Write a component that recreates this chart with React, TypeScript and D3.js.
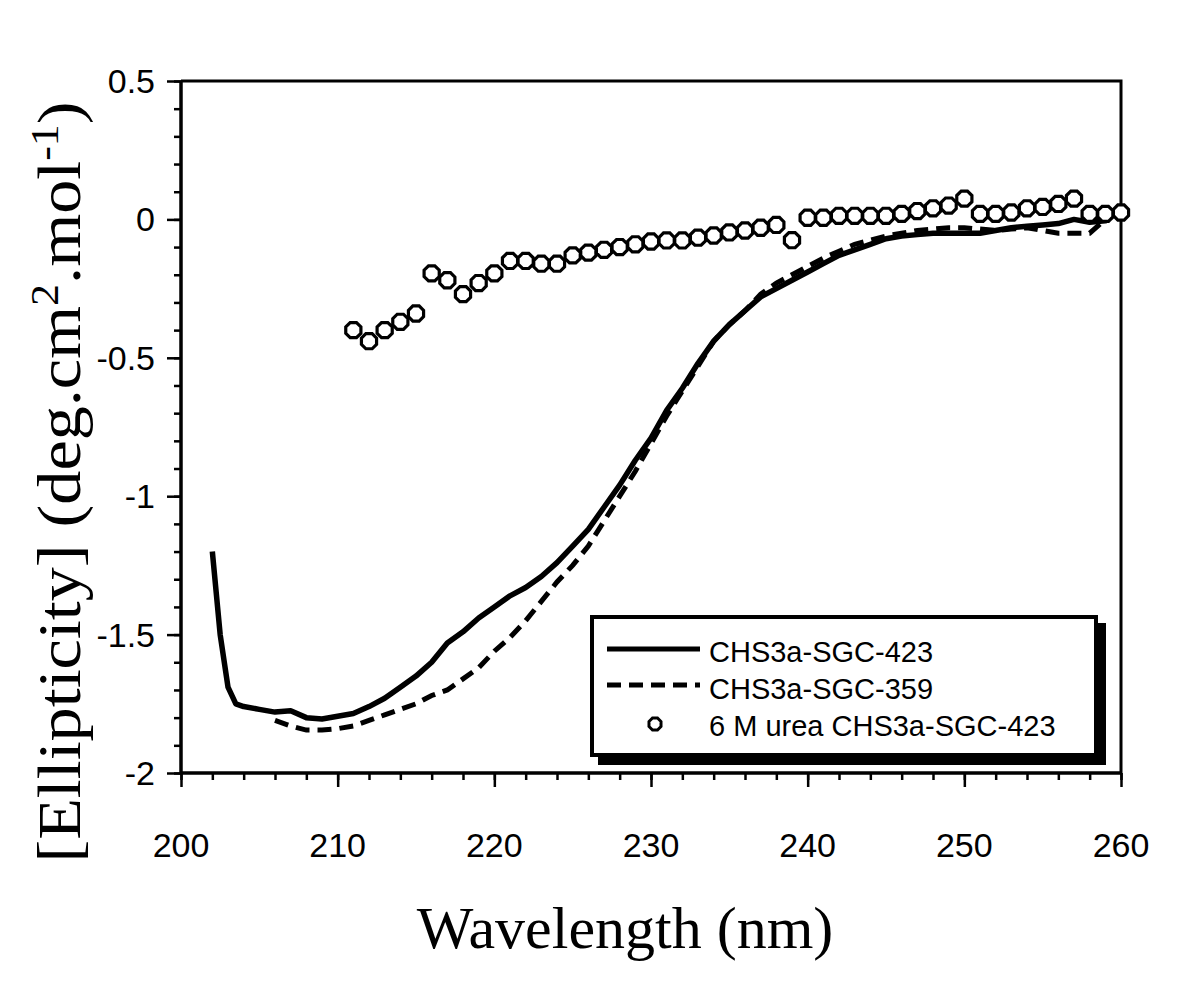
import React, { useEffect, useRef } from 'react';
import * as d3 from 'd3';

// CHS3a-SGC-423 (solid)
const wl423 = [202, 202.5, 203, 203.5, 204, 205, 206, 207, 208, 209, 210, 211, 212, 213, 214, 215, 216, 217, 218, 219, 220, 221, 222, 223, 224, 225, 226, 227, 228, 229, 230, 231, 232, 233, 234, 235, 236, 237, 238, 239, 240, 241, 242, 243, 244, 245, 246, 247, 248, 249, 250, 251, 252, 253, 254, 255, 256, 257, 258, 259, 260];
const ell423 = [-1.2, -1.5, -1.69, -1.75, -1.76, -1.77, -1.78, -1.775, -1.8, -1.805, -1.795, -1.785, -1.76, -1.73, -1.69, -1.65, -1.6, -1.53, -1.49, -1.44, -1.4, -1.36, -1.33, -1.29, -1.24, -1.18, -1.12, -1.04, -0.96, -0.87, -0.79, -0.69, -0.61, -0.52, -0.44, -0.38, -0.33, -0.28, -0.25, -0.22, -0.19, -0.16, -0.13, -0.11, -0.09, -0.07, -0.06, -0.055, -0.05, -0.05, -0.05, -0.05, -0.04, -0.03, -0.025, -0.02, -0.015, 0, -0.01, -0.005, 0.04];

// CHS3a-SGC-359 (dashed)
const wl359 = [206, 207, 208, 209, 210, 211, 212, 213, 214, 215, 216, 217, 218, 219, 220, 221, 222, 223, 224, 225, 226, 227, 228, 229, 230, 231, 232, 233, 234, 235, 236, 237, 238, 239, 240, 241, 242, 243, 244, 245, 246, 247, 248, 249, 250, 251, 252, 253, 254, 255, 256, 257, 258, 259, 260];
const ell359 = [-1.81, -1.83, -1.845, -1.845, -1.84, -1.83, -1.81, -1.79, -1.77, -1.75, -1.72, -1.7, -1.66, -1.62, -1.56, -1.51, -1.45, -1.38, -1.31, -1.25, -1.18, -1.09, -1.0, -0.91, -0.81, -0.71, -0.62, -0.53, -0.44, -0.38, -0.33, -0.27, -0.23, -0.2, -0.17, -0.14, -0.115, -0.09, -0.075, -0.06, -0.05, -0.04, -0.035, -0.03, -0.03, -0.035, -0.04, -0.035, -0.03, -0.04, -0.05, -0.05, -0.05, 0.0, 0.03];

// 6 M urea CHS3a-SGC-423 (open markers)
const wlUrea = d3.range(211, 261);
const ellUrea = [-0.4, -0.44, -0.4, -0.37, -0.34, -0.195, -0.22, -0.27, -0.23, -0.195, -0.15, -0.15, -0.16, -0.16, -0.13, -0.12, -0.11, -0.1, -0.09, -0.08, -0.076, -0.076, -0.066, -0.058, -0.047, -0.04, -0.03, -0.02, -0.075, 0.006, 0.006, 0.013, 0.013, 0.013, 0.013, 0.02, 0.03, 0.04, 0.05, 0.075, 0.02, 0.02, 0.025, 0.04, 0.045, 0.056, 0.075, 0.02, 0.02, 0.025];

const legendLabels = ['CHS3a-SGC-423', 'CHS3a-SGC-359', '6 M urea CHS3a-SGC-423'];
const xTicks = [200, 210, 220, 230, 240, 250, 260];
const yTicks = [0.5, 0, -0.5, -1, -1.5, -2];

const SANS = '"Liberation Sans", Arial, sans-serif';
const SERIF = '"Liberation Serif", "Times New Roman", serif';

// octagon-ish marker path
const marker = (r: number) => {
  const pts = d3.range(8).map(i => {
    const a = (Math.PI / 8) + i * Math.PI / 4;
    return [r * Math.cos(a), r * Math.sin(a)];
  });
  return 'M' + pts.map(p => p.join(',')).join('L') + 'Z';
};

const App = () => {
  const svgRef = useRef(null);

  useEffect(() => {
    const svg = d3.select(svgRef.current);
    svg.selectAll('*').remove();

    const x = d3.scaleLinear().domain([200, 260]).range([181, 1121]);
    const y = d3.scaleLinear().domain([-2, 0.5]).range([773, 81]);

    // frame top + right
    svg.append('path')
      .attr('d', `M${x(200)},${y(0.5)}H${x(260)}V${y(-2)}`)
      .attr('fill', 'none').attr('stroke', '#000').attr('stroke-width', 3);

    // bottom axis: minor then major
    const gx = svg.append('g').attr('transform', `translate(0,${y(-2)})`);
    gx.call(d3.axisBottom(x).tickValues(d3.range(200, 261, 2)).tickSize(7).tickFormat(() => ''));
    gx.call(g => g.append('g').call(d3.axisBottom(x).tickValues(xTicks).tickSize(14).tickFormat(() => '')));
    gx.selectAll('path.domain').attr('stroke-width', 3).attr('d', `M${x(200)},0H${x(260)}`);
    gx.selectAll('line').attr('stroke-width', 2.5);

    // left axis
    const gy = svg.append('g').attr('transform', `translate(${x(200)},0)`);
    gy.call(d3.axisLeft(y).tickValues(d3.range(-20, 6).map(v => v / 10)).tickSize(7).tickFormat(() => ''));
    gy.call(g => g.append('g').call(d3.axisLeft(y).tickValues(yTicks).tickSize(14).tickFormat(() => '')));
    gy.selectAll('path.domain').attr('stroke-width', 3).attr('d', `M0,${y(0.5)}V${y(-2)}`);
    gy.selectAll('line').attr('stroke-width', 2.5);

    // tick labels
    svg.append('g').selectAll('text').data(xTicks).enter().append('text')
      .attr('x', d => x(d)).attr('y', 857)
      .attr('text-anchor', 'middle')
      .attr('font-family', SANS).attr('font-size', 34)
      .text(d => d);
    svg.append('g').selectAll('text').data(yTicks).enter().append('text')
      .attr('x', 155).attr('y', d => y(d) + 12)
      .attr('text-anchor', 'end')
      .attr('font-family', SANS).attr('font-size', 34)
      .text(d => d);

    // series
    const lineGen = d3.line<[number, number]>().x(d => x(d[0])).y(d => y(d[1]));
    svg.append('path')
      .datum(wl359.map((w, i) => [w, ell359[i]] as [number, number]))
      .attr('d', lineGen)
      .attr('fill', 'none').attr('stroke', '#000').attr('stroke-width', 5)
      .attr('stroke-dasharray', '14,8');
    svg.append('path')
      .datum(wl423.map((w, i) => [w, ell423[i]] as [number, number]))
      .attr('d', lineGen)
      .attr('fill', 'none').attr('stroke', '#000').attr('stroke-width', 5.5)
      .attr('stroke-linejoin', 'round');
    svg.append('g').selectAll('path').data(wlUrea).enter().append('path')
      .attr('transform', (d, i) => `translate(${x(d)},${y(ellUrea[i])})`)
      .attr('d', marker(8.2))
      .attr('fill', '#fff').attr('stroke', '#000').attr('stroke-width', 3.2);

    // legend
    const lg = svg.append('g');
    lg.append('rect').attr('x', 598).attr('y', 623).attr('width', 508).attr('height', 142).attr('fill', '#000');
    lg.append('rect').attr('x', 592).attr('y', 617).attr('width', 504).attr('height', 138)
      .attr('fill', '#fff').attr('stroke', '#000').attr('stroke-width', 4);
    lg.append('line').attr('x1', 607).attr('x2', 700).attr('y1', 649).attr('y2', 649)
      .attr('stroke', '#000').attr('stroke-width', 5);
    lg.append('line').attr('x1', 607).attr('x2', 700).attr('y1', 685).attr('y2', 685)
      .attr('stroke', '#000').attr('stroke-width', 5).attr('stroke-dasharray', '14,8');
    lg.append('path').attr('transform', 'translate(655,724)').attr('d', marker(6.5))
      .attr('fill', '#fff').attr('stroke', '#000').attr('stroke-width', 3);
    lg.selectAll('text').data(legendLabels).enter().append('text')
      .attr('x', 709).attr('y', (d, i) => 662 + i * 37)
      .attr('font-family', SANS).attr('font-size', 29)
      .text(d => d);

    // axis titles
    svg.append('text')
      .attr('x', 625).attr('y', 948).attr('text-anchor', 'middle')
      .attr('font-family', SERIF).attr('font-size', 60)
      .text('Wavelength (nm)');

    const yt = svg.append('text')
      .attr('transform', 'translate(80,482) rotate(-90) scale(1.1,1)')
      .attr('text-anchor', 'middle')
      .attr('font-family', SERIF).attr('font-size', 62);
    yt.append('tspan').text('[Ellipticity] (deg.cm');
    yt.append('tspan').attr('font-size', 40).attr('dy', -22).text('2');
    yt.append('tspan').attr('dy', 22).text('.mol');
    yt.append('tspan').attr('font-size', 40).attr('dy', -22).text('-1');
    yt.append('tspan').attr('dy', 22).text(')');
  }, []);

  return (
    <svg
      ref={svgRef}
      width={1200}
      height={982}
      style={{ position: 'absolute', left: 0, top: 0, background: '#fff' }}
    ></svg>
  );
};

export default App;
